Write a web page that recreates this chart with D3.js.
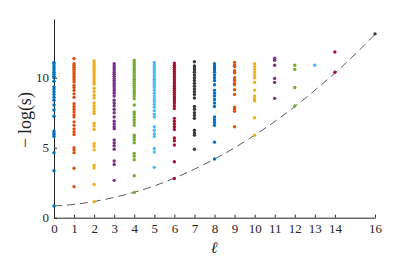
<!DOCTYPE html>
<html><head><meta charset="utf-8">
<script src="https://cdn.jsdelivr.net/npm/d3@7"></script>
<style>body{margin:0;background:#fff}svg{display:block}</style>
</head><body>
<svg id="c" width="415" height="260"></svg>
<script>
// ---- data ----
const ells = [0,1,2,3,4,5,6,7,8,9,10,11,12,13,14,16];
const xTicks = [0,1,2,3,4,5,6,7,8,9,10,11,12,13,14,16];
const yTicks = [0,5,10];
const colColors = ["#0072BD","#D95319","#EDB120","#7E2F8E","#77AC30","#4DBEEE","#A2142F","#3a3a3a",
                   "#0072BD","#D95319","#EDB120","#7E2F8E","#77AC30","#4DBEEE","#A2142F","#3a3a3a"];
const col0 = [11.1,11.0,10.85,10.7,10.55,10.4,10.25,10.1,10.0,9.75,9.35,9.2,9.0,8.8,8.6,8.4,8.05,7.7,7.25,6.2,6.05,5.95,5.8,4.65,3.35,0.84];
const col1 = [11.38,11.0,10.9,10.75,10.6,10.45,10.3,10.15,10.0,9.85,9.7,9.45,9.3,9.1,8.85,8.6,8.15,7.95,7.75,7.55,7.35,7.2,6.85,6.6,6.35,6.15,5.95,5.0,4.85,4.65,3.53,2.21];
const col2 = [11.2,11.05,10.9,10.75,10.6,10.45,10.3,10.15,10.0,9.85,9.7,9.55,9.25,9.0,8.75,8.55,8.2,8.0,7.8,7.6,7.45,6.75,6.55,6.3,5.3,5.1,4.85,3.75,3.55,2.38,1.14];
const col3 = [11.0,10.85,10.7,10.55,10.4,10.25,10.1,9.95,9.8,9.65,9.5,9.35,9.2,9.05,8.9,8.7,8.4,8.2,8.0,7.75,7.5,7.2,6.9,6.7,6.5,6.35,5.55,5.35,5.15,4.9,4.05,3.8,2.67];
const col4 = [11.25,11.1,10.95,10.8,10.65,10.5,10.35,10.2,10.05,9.9,9.75,9.6,9.45,9.3,9.15,9.0,8.85,8.7,8.5,8.05,7.55,7.4,7.2,7.0,6.8,6.6,5.9,5.75,5.55,5.35,4.6,4.4,4.15,3.0,1.8];
const col5 = [11.1,10.95,10.8,10.65,10.5,10.35,10.2,10.05,9.9,9.75,9.6,9.45,9.3,9.1,8.9,8.7,8.5,8.3,8.1,7.9,7.65,7.4,7.2,6.5,6.25,6.0,5.8,4.95,4.7,3.6];
const col6 = [11.05,10.9,10.75,10.6,10.45,10.3,10.15,10.0,9.85,9.7,9.55,9.4,9.25,9.1,8.95,8.8,8.65,8.5,8.35,8.2,8.0,7.8,7.1,6.9,6.7,6.5,6.3,5.7,5.5,5.2,4.0,2.8];
const col7 = [11.15,10.85,10.7,10.55,10.4,10.2,10.0,9.8,9.6,9.4,9.2,9.0,8.8,8.55,7.95,7.75,7.5,7.3,7.1,6.25,6.05,5.9,4.89];
const col8 = [11.0,10.85,10.7,10.55,10.4,10.2,10.0,9.8,9.5,9.1,8.9,8.7,8.45,8.2,7.95,7.2,7.0,6.8,6.6,5.4,4.19];
const col9 = [11.1,10.9,10.8,10.5,10.35,10.0,9.8,9.6,9.5,9.15,8.8,7.9,7.75,7.6,6.5];
const col10 = [11.0,10.8,10.6,10.4,10.2,10.0,9.67,9.12,8.7,8.5,8.36,7.14,5.9];
const col11 = [11.4,11.25,10.9,9.95,9.67,8.53];
const col12 = [10.9,10.6,9.3,7.98];
const col13 = [10.9];
const col14 = [11.84,10.39];
const col16 = [13.14];
const columns = [col0,col1,col2,col3,col4,col5,col6,col7,col8,col9,col10,col11,col12,col13,col14,col16];
// dashed lower-bound curve, read at integer ell
const curveL = [0,1,2,3,4,5,6,7,8,9,10,11,12,13,14,15,16];
const curveV = [0.84,0.95,1.16,1.45,1.82,2.27,2.83,3.47,4.19,5.0,5.9,6.87,7.94,9.1,10.34,11.67,13.1];

// ---- drawing ----
const svg = d3.select("#c");
const x = d3.scaleLinear().domain([0,16]).range([54,375]);
const y = d3.scaleLinear().domain([0,14.2]).range([217.7,19]);
const font = "'Liberation Serif', 'Times New Roman', serif";

// axes
const xa = svg.append("g").attr("transform","translate(0,217.7)")
  .call(d3.axisBottom(x).tickValues(xTicks).tickSizeInner(-3).tickSizeOuter(0).tickPadding(6).tickFormat(d3.format("d")));
const ya = svg.append("g").attr("transform","translate(54,0)")
  .call(d3.axisLeft(y).tickValues(yTicks).tickSizeInner(-3).tickSizeOuter(0).tickPadding(5).tickFormat(d3.format("d")));
[xa,ya].forEach(a=>{
  a.select(".domain").attr("stroke","#262626").attr("stroke-width",1);
  a.selectAll(".tick line").attr("stroke","#262626");
  a.selectAll("text").attr("font-family",font).attr("font-size",13).attr("fill","#262626");
});

// curve
const line = d3.line().x((d,i)=>x(curveL[i])).y(d=>y(d)).curve(d3.curveNatural);
svg.append("path").datum(curveV).attr("d", line)
  .attr("fill","none").attr("stroke","#333").attr("stroke-width",0.8)
  .attr("stroke-dasharray","8,5");

// points
const pts = [];
columns.forEach((vals,i)=>vals.forEach(v=>pts.push({l:ells[i], v, c:colColors[i]})));
svg.append("g").selectAll("circle").data(pts).join("circle")
  .attr("cx",d=>x(d.l)).attr("cy",d=>y(d.v)).attr("r",1.7).attr("fill",d=>d.c);

// labels
svg.append("text").attr("x",214).attr("y",253).attr("text-anchor","middle")
  .attr("font-family",font).attr("font-style","italic").attr("font-size",16).attr("fill","#262626").text("ℓ");
svg.append("text").attr("transform","translate(31,120) rotate(-90)").attr("text-anchor","middle")
  .attr("font-family",font).attr("font-size",18).attr("fill","#262626").text("−\u2009log(s)");
</script>
</body></html>
